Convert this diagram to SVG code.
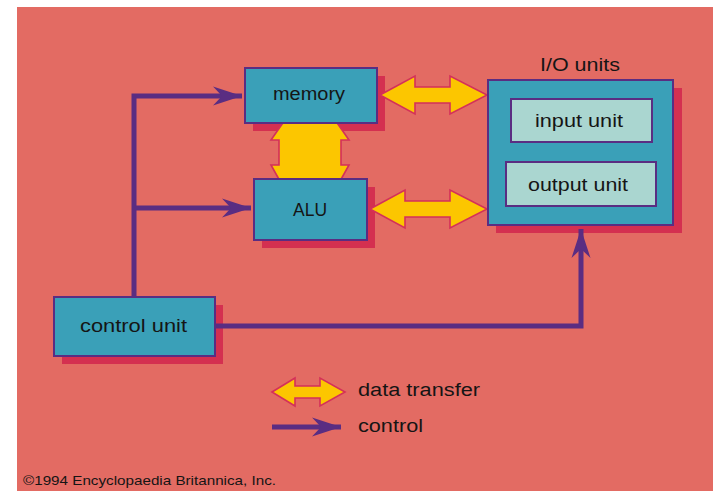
<svg xmlns="http://www.w3.org/2000/svg" width="713" height="491" viewBox="0 0 713 491">
<defs>
<style>
.bg{fill:#E36B63}
.shadow{fill:#D43050}
.box{fill:#3AA0B8;stroke:#5A2D82;stroke-width:2}
.inner{fill:#AAD6D0;stroke:#5A2D82;stroke-width:2}
.data{fill:#FCC600;stroke:#D4305A;stroke-width:1.6;stroke-linejoin:miter}
.ctl{fill:none;stroke:#5A2D82;stroke-width:5}
.lbl{font-family:"Liberation Sans",Arial,sans-serif;font-size:18px;fill:#151515}
.small{font-family:"Liberation Sans",Arial,sans-serif;font-size:13px;fill:#151515}
</style>
<marker id="ah" markerUnits="userSpaceOnUse" viewBox="-30 -11 32 22" refX="0" refY="0" markerWidth="32" markerHeight="22" orient="auto">
<path d="M0,0 L-29,-9.5 L-20,0 L-29,9.5 Z" fill="#5A2D82"/>
</marker>
</defs>
<rect class="bg" x="17" y="7" width="696" height="484"/>

<g id="shadows">
<rect class="shadow" x="253" y="76" width="132" height="55"/>
<rect class="shadow" x="262" y="187" width="113" height="61"/>
<rect class="shadow" x="496" y="88" width="186" height="145"/>
<rect class="shadow" x="62" y="305" width="161" height="59"/>
</g>

<g id="connectors">
<polygon class="data" points="310,84 349,140 341,140 341,165 349,165 310,235 271,165 279,165 279,140 271,140"/>
<polygon class="data" points="380,95 415,76 415,87 450,87 450,76 487,95 450,114 450,103 415,103 415,114"/>
<polygon class="data" points="370,209 405,190 405,201 450,201 450,190 487,209 450,228 450,217 405,217 405,228"/>
<path class="ctl" d="M134,297 V96 H242" marker-end="url(#ah)"/>
<path class="ctl" d="M134,208 H251" marker-end="url(#ah)"/>
<path class="ctl" d="M215,326 H581 V229" marker-end="url(#ah)"/>
</g>

<g id="memory">
<rect class="box" x="245" y="68" width="132" height="55"/>
<text class="lbl" x="273" y="100" textLength="72" lengthAdjust="spacingAndGlyphs">memory</text>
</g>
<g id="alu">
<rect class="box" x="254" y="179" width="113" height="61"/>
<text class="lbl" x="293" y="216" textLength="34" lengthAdjust="spacingAndGlyphs">ALU</text>
</g>
<g id="io-units">
<text class="lbl" x="540" y="71" textLength="80" lengthAdjust="spacingAndGlyphs">I/O units</text>
<rect class="box" x="488" y="80" width="185" height="145"/>
</g>
<g id="input-unit">
<rect class="inner" x="511" y="99" width="141" height="43"/>
<text class="lbl" x="535" y="127" textLength="88" lengthAdjust="spacingAndGlyphs">input unit</text>
</g>
<g id="output-unit">
<rect class="inner" x="506" y="162" width="150" height="44"/>
<text class="lbl" x="528" y="191" textLength="100" lengthAdjust="spacingAndGlyphs">output unit</text>
</g>
<g id="control-unit">
<rect class="box" x="54" y="297" width="161" height="59"/>
<text class="lbl" x="80" y="332" textLength="107" lengthAdjust="spacingAndGlyphs">control unit</text>
</g>

<g id="legend">
<polygon class="data" points="272,392 295,378 295,386 320,386 320,378 345,392 320,406 320,398 295,398 295,406"/>
<text class="lbl" x="358" y="396" textLength="122" lengthAdjust="spacingAndGlyphs">data transfer</text>
<path class="ctl" d="M272,427 H341" marker-end="url(#ah)"/>
<text class="lbl" x="358" y="432" textLength="65" lengthAdjust="spacingAndGlyphs">control</text>
</g>

<text class="small" x="23" y="485" textLength="253" lengthAdjust="spacingAndGlyphs">©1994 Encyclopaedia Britannica, Inc.</text>
</svg>
